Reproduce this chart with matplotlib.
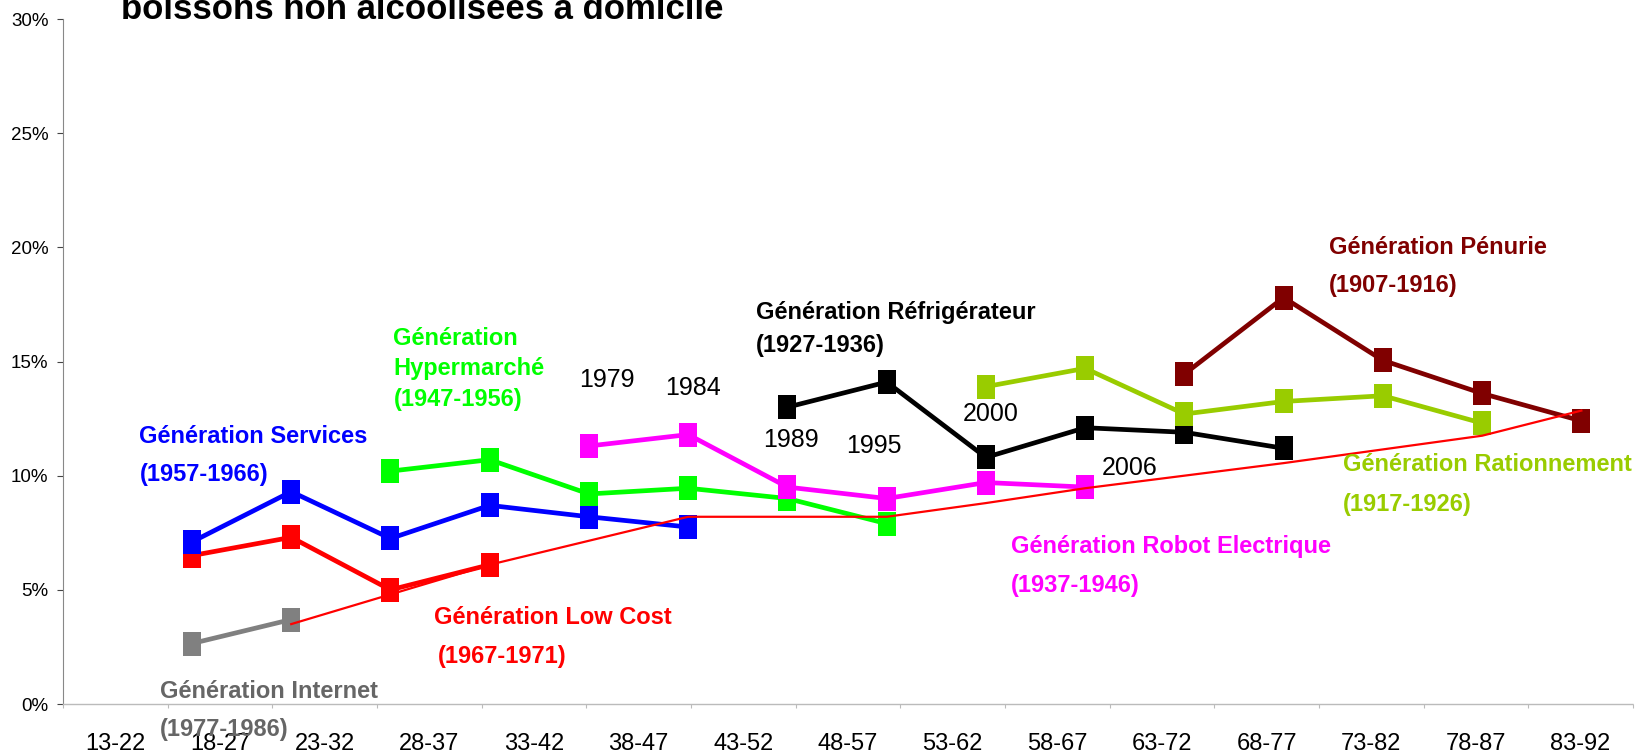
import matplotlib
matplotlib.use("Agg")
import matplotlib.pyplot as plt
import numpy as np

plt.rcParams['font.family'] = ['Liberation Sans', 'DejaVu Sans']

# categories of the x axis (age groups)
categories = ["13-22", "18-27", "23-32", "28-37", "33-42", "38-47", "43-52",
              "48-57", "53-62", "58-67", "63-72", "68-77", "73-82", "78-87", "83-92"]

# series: (first point index, values in %)
internet = (0, [2.65, 3.7])
services = (0, [7.1, 9.3, 7.25, 8.7, 8.2, 7.75])
low_cost = (0, [6.5, 7.3, 5.0, 6.1])
hypermarche = (2, [10.2, 10.7, 9.2, 9.45, 9.0, 7.9])
robot = (4, [11.3, 11.8, 9.5, 9.0, 9.7, 9.5])
frigo = (6, [13.0, 14.1, 10.8, 12.1, 11.9, 11.2])
rationnement = (8, [13.9, 14.7, 12.7, 13.25, 13.5, 12.3])
penurie = (10, [14.45, 17.8, 15.05, 13.6, 12.4])
trend = (1, [3.5, 4.8, 6.1, 7.15, 8.2, 8.2, 8.2, 8.8, 9.45, 10.0, 10.55, 11.15, 11.75, 12.85])

fig = plt.figure(figsize=(16.4, 7.54), dpi=100)
ax = fig.add_axes([0.0384, 0.0663, 0.9573, 0.9085])
ax.set_xlim(0, 15)
ax.set_ylim(0, 30)

ax.set_xticks(np.arange(0, 16))
ax.set_xticklabels([])
ax.set_xticks(np.arange(15) + 0.5, minor=True)
ax.set_xticklabels(categories, minor=True, fontsize=17)
ax.tick_params(axis='x', which='major', direction='out', length=3, color='#bbbbbb')
ax.tick_params(axis='x', which='minor', length=0, pad=21)
ax.set_yticks(np.arange(0, 31, 5))
ax.set_yticklabels([f"{v}%" for v in range(0, 31, 5)], fontsize=13.5)
ax.tick_params(axis='y', direction='out', length=4.5, color='#444444', pad=6)

for s in ['top', 'right']:
    ax.spines[s].set_visible(False)
ax.spines['left'].set_color('#888888')
ax.spines['left'].set_linewidth(0.8)
ax.spines['bottom'].set_color('#bbbbbb')
ax.spines['bottom'].set_linestyle((0, (2, 1)))
ax.spines['bottom'].set_linewidth(1)

# data axis: points sit on a different grid than the category labels
ax2 = ax.twiny()
ax2.set_xlim(-1.30, 14.52)
ax2.set_ylim(0, 30)
ax2.axis('off')

rect = [(-0.38, -0.5), (0.38, -0.5), (0.38, 0.5), (-0.38, 0.5), (-0.38, -0.5)]

def draw(series, color, lw=3.4, marker=True):
    start, vals = series
    x = np.arange(start, start + len(vals))
    if marker:
        ax2.plot(x, vals, color=color, lw=lw, marker=rect, markersize=17,
                 markeredgewidth=0)
    else:
        ax2.plot(x, vals, color=color, lw=lw)

draw(internet, '#808080')
draw(low_cost, '#ff0000')
draw(services, '#0000ff')
draw(hypermarche, '#00ff00')
draw(robot, '#ff00ff')
draw(frigo, '#000000')
draw(rationnement, '#99cc00')
draw(penurie, '#800000')
draw(trend, '#ff0000', lw=1.6, marker=False)

def lab(x, y, s, c, bold=True, size=17):
    ax2.text(x, y, s, color=c, fontsize=size, fontweight='bold' if bold else 'normal',
             va='center', ha='left', clip_on=False)

lab(-0.53, 11.7, "Génération Services", '#0000ff')
lab(-0.53, 10.05, "(1957-1966)", '#0000ff')
lab(2.03, 16.0, "Génération", '#00ff00')
lab(2.03, 14.7, "Hypermarché", '#00ff00')
lab(2.03, 13.35, "(1947-1956)", '#00ff00')
lab(5.68, 17.15, "Génération Réfrigérateur", '#000000')
lab(5.68, 15.7, "(1927-1936)", '#000000')
lab(11.46, 20.0, "Génération Pénurie", '#800000')
lab(11.46, 18.35, "(1907-1916)", '#800000')
lab(11.6, 10.5, "Génération Rationnement", '#99cc00')
lab(11.6, 8.75, "(1917-1926)", '#99cc00')
lab(8.25, 6.9, "Génération Robot Electrique", '#ff00ff')
lab(8.25, 5.2, "(1937-1946)", '#ff00ff')
lab(2.44, 3.8, "Génération Low Cost", '#ff0000')
lab(2.48, 2.1, "(1967-1971)", '#ff0000')
lab(-0.32, 0.55, "Génération Internet", '#666666')
lab(-0.32, -1.1, "(1977-1986)", '#666666')

for x, y, s in [(3.9, 14.2, "1979"), (4.77, 13.85, "1984"), (5.76, 11.55, "1989"),
                (6.59, 11.3, "1995"), (7.77, 12.7, "2000"), (9.17, 10.35, "2006")]:
    lab(x, y, s, '#000000', bold=False, size=18)

fig.text(0.074, 0.975, "boissons non alcoolisées à domicile", fontsize=25,
         fontweight='bold', va='baseline', ha='left')

fig.savefig("out.png", dpi=100)
